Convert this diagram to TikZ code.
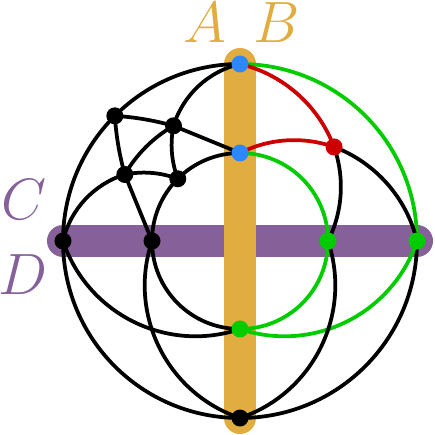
\documentclass[tikz,border=0pt]{standalone}
\usepackage{tikz}
\usetikzlibrary{positioning}
\definecolor{barA}{RGB}{225,172,64}
\definecolor{barC}{RGB}{133,96,153}
\definecolor{ptblue}{RGB}{45,135,255}
\definecolor{ptred}{RGB}{204,0,0}
\definecolor{ptgreen}{RGB}{0,204,0}

\begin{document}
\begin{tikzpicture}[
  x=0.015cm, y=0.015cm,
  edge/.style={line width=1.6pt},
  bar/.style={line width=0.48cm, line cap=round},
  dot/.style={circle, inner sep=0pt, minimum size=0.255cm},
  lab/.style={font=\Huge, anchor=base, inner sep=0pt}
]
\useasboundingbox (-240,-194) rectangle (194,241);
% points on the three rings
\coordinate (T) at (90:177);
\coordinate (P1) at (135:177);
\coordinate (L1) at (180:177);
\coordinate (Bot) at (270:177);
\coordinate (G2) at (0:177);
\coordinate (M) at (90:88);
\coordinate (P4) at (135:88);
\coordinate (L2) at (180:88);
\coordinate (G3) at (270:88);
\coordinate (G1) at (0:88);
\coordinate (R) at (45:133);
\coordinate (P2) at (120:133);
\coordinate (P3) at (150:133);

% the two bars
\draw[bar, barC] (L1) -- (G2);
\draw[bar, barA] (T) -- (Bot);

% outer ring
\draw[edge] (T) to[bend right=22.5, looseness=.89] (P1)
  to[bend right=22.5, looseness=.89] (L1) to[bend right=45] (Bot)
  to[bend right=45] (G2);
\draw[edge, ptgreen] (G2) to[bend right=45] (T);
% inner ring
\draw[edge] (M) to[bend right=22.5, looseness=.89] (P4)
  to[bend right=22.5, looseness=.89] (L2) to[bend right=45] (G3);
\draw[edge, ptgreen] (G3) to[bend right=45] (G1) to[bend right=45] (M);

% top left
\draw[edge] (T) to[bend right=30, looseness=.91] (P2);
\draw[edge] (P2) -- (M);
\draw[edge] (P3) to[bend right=30, looseness=.91] (L1);
\draw[edge] (P3) -- (L2);
\draw[edge] (P1) to[bend left=6, looseness=.86] (P2);
\draw[edge] (P1) to[bend right=6, looseness=.86] (P3);
\draw[edge] (P2) to[bend right=15, looseness=.87] (P3);
\draw[edge] (P2) to[bend right=16, looseness=.87] (P4);
\draw[edge] (P3) to[bend left=16, looseness=.87] (P4);

% top right
\draw[edge, ptred] (T) to[bend left=28, looseness=.9] (R);
\draw[edge, ptred] (M) to[bend left=23, looseness=.89] (R);
\draw[edge] (R) to[bend left=23, looseness=.89] (G1);
\draw[edge] (R) to[bend left=28, looseness=.9] (G2);

% bottom
\draw[edge] (L1) to[bend right=45] (G3);
\draw[edge] (L2) to[bend right=45] (Bot);
\draw[edge, ptgreen] (G3) to[bend right=45] (G2);
\draw[edge] (Bot) to[bend right=45] (G1);

\foreach \p/\c in {T/ptblue, M/ptblue, R/ptred, G1/ptgreen, G2/ptgreen,
  G3/ptgreen, Bot/black, L1/black, L2/black, P1/black, P2/black,
  P3/black, P4/black}
  \node[dot, fill=\c] (d\p) at (\p) {};

\node[lab, barA] (labA) at (-35,198) {$A$};
\node[lab, barA] (labB) at (37,198) {$B$};
\node[lab, barC] (labC) at (-216,21) {$C$};
\node[lab, barC] (labD) at (-217,-54) {$D$};
\end{tikzpicture}
\end{document}
